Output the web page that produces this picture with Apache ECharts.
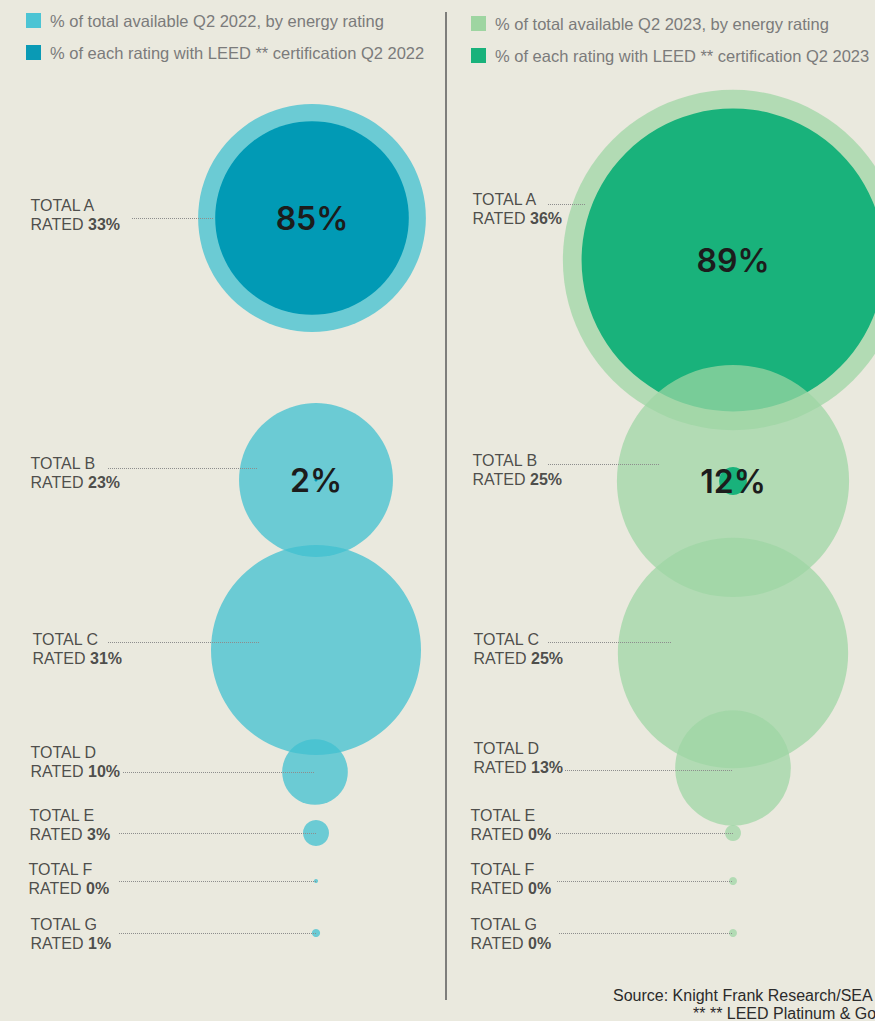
<!DOCTYPE html>
<html><head><meta charset="utf-8">
<script src="https://cdn.jsdelivr.net/npm/echarts@6/dist/echarts.min.js"></script>
<style>html,body{margin:0;padding:0;background:#eae9de;}#c{width:875px;height:1021px;}</style>
</head><body><div id="c"></div>
<script>
// ---------------- DATA ----------------
const ratings = ['A', 'B', 'C', 'D', 'E', 'F', 'G'];
// printed "% of total available" by energy rating
const share2022 = [33, 23, 31, 10, 3, 0, 1];
const share2023 = [36, 25, 25, 13, 0, 0, 0];
// % of each rating with LEED certification (only A and B shown)
const leed2022 = [85, 2, null, null, null, null, null];
const leed2023 = [89, 12, null, null, null, null, null];
// bubble sizes (in % units, unrounded estimates)
const bubble2022 = [33.3, 22.5, 30.7, 9.6, 3.8, 0.6, 1.2];
const bubble2023 = [36.2, 24.7, 24.5, 12.3, 1.7, 0.85, 0.85];
const legend2022 = ['% of total available Q2 2022, by energy rating', '% of each rating with LEED ** certification Q2 2022'];
const legend2023 = ['% of total available Q2 2023, by energy rating', '% of each rating with LEED ** certification Q2 2023'];
const sourceLines = ['Source: Knight Frank Research/SEA', '** ** LEED Platinum & Gold'];

// ---------------- LAYOUT ----------------
const FONT = '"Liberation Sans", Arial, sans-serif';
const PANELS = [
  {
    share: share2022, leed: leed2022, bubble: bubble2022, names: legend2022,
    light: '#40c0d0', lightAlpha: 0.75, dark: '#019ab5',
    legendLight: '#4cc4d4', legendDark: '#0a9ab5', legendLeft: 21, legendTop: 7,
    k: 3.42,
    cx: [312, 316, 316, 315, 316, 316, 316],
    cy: [218, 480, 650, 772, 833, 881, 933],
    labelX: [30, 30, 32, 30, 29, 28, 30],
    labelY: [214.5, 472.5, 648.5, 761.5, 824.5, 878.5, 933.5],
    lineX0: [132, 108, 108, 123, 119, 119, 119],
    lineX1: [213, 257, 260, 315, 316, 316, 316],
    lineY: [218, 468, 642, 772, 833, 881, 933]
  },
  {
    share: share2023, leed: leed2023, bubble: bubble2023, names: legend2023,
    light: '#9cd5a3', lightAlpha: 0.72, dark: '#19b27b',
    legendLight: '#9ed5a1', legendDark: '#19b27b', legendLeft: 466, legendTop: 10,
    k: 4.7,
    cx: [733, 733, 733, 733, 733, 733, 733],
    cy: [260, 481, 653, 768, 833, 881, 933],
    labelX: [472, 472, 473, 473, 470, 470, 470],
    labelY: [208.5, 469.5, 648.5, 757.5, 824.5, 878.5, 933.5],
    lineX0: [548, 548, 548, 565, 556, 557, 559],
    lineX1: [585, 660, 672, 733, 733, 733, 733],
    lineY: [204, 464, 642, 770, 833, 881, 933]
  }
];

// ---------------- BUILD ----------------
const series = [];
const legends = [];
let z = 2;
PANELS.forEach(function (p) {
  const k = p.k;
  function lightItem(i) { return { value: [p.cx[i], p.cy[i], p.bubble[i]] }; }
  function darkItem(i) { return { value: [p.cx[i], p.cy[i], p.bubble[i] * p.leed[i] / 100, p.leed[i]] }; }
  const lightSeries = function (idx) {
    return {
      type: 'scatter', name: p.names[0], z: z++, silent: true,
      symbol: 'circle',
      symbolSize: function (v) { return 2 * k * v[2]; },
      itemStyle: { color: p.light, opacity: p.lightAlpha },
      data: idx.map(lightItem)
    };
  };
  const darkSeries = function (idx) {
    return {
      type: 'scatter', name: p.names[1], z: z++, silent: true,
      symbol: 'circle',
      symbolSize: function (v) { return 2 * k * v[2]; },
      itemStyle: { color: p.dark, opacity: 1 },
      label: {
        show: true, position: 'inside',
        formatter: function (d) { return d.value[3] + '%'; },
        fontFamily: 'Inter, sans-serif', fontWeight: 600, fontSize: 32, color: '#1c1c1c'
      },
      data: idx.map(darkItem)
    };
  };
  const rest = [];
  const restLeed = [];
  for (let i = 1; i < ratings.length; i++) {
    rest.push(i);
    if (p.leed[i] != null) restLeed.push(i);
  }
  series.push(lightSeries([0]));
  series.push(darkSeries([0]));
  series.push(lightSeries(rest));
  series.push(darkSeries(restLeed));

  // leader lines
  series.push({
    type: 'lines', coordinateSystem: 'cartesian2d', silent: true, z: 50,
    lineStyle: { color: '#8d8d8d', width: 1, type: [1, 1], opacity: 1 },
    data: ratings.map(function (r, i) {
      return { coords: [[p.lineX0[i], p.lineY[i]], [p.lineX1[i], p.lineY[i]]] };
    })
  });
  // row labels
  series.push({
    type: 'scatter', silent: true, z: 60, symbolSize: 1,
    itemStyle: { color: 'rgba(0,0,0,0)' },
    label: {
      show: true, position: 'right', distance: 0, align: 'left', verticalAlign: 'middle',
      formatter: function (d) {
        return '{n|TOTAL ' + ratings[d.dataIndex] + '}\n{n|RATED }{b|' + p.share[d.dataIndex] + '%}';
      },
      rich: {
        n: { fontFamily: FONT, fontSize: 16, lineHeight: 19, color: '#242424' },
        b: { fontFamily: FONT, fontSize: 16, lineHeight: 19, color: '#242424', fontWeight: 'bold' }
      }
    },
    data: ratings.map(function (r, i) { return [p.labelX[i], p.labelY[i]]; })
  });

  legends.push({
    left: p.legendLeft, top: p.legendTop, orient: 'vertical', icon: 'rect',
    itemWidth: 15, itemHeight: 15, itemGap: 15, selectedMode: false,
    textStyle: { fontFamily: FONT, fontSize: 16.5, color: '#7b7b7b', padding: [0, 0, 0, 4] },
    data: [
      { name: p.names[0], itemStyle: { color: p.legendLight, opacity: 1 } },
      { name: p.names[1], itemStyle: { color: p.legendDark, opacity: 1 } }
    ]
  });
});

const chart = echarts.init(document.getElementById('c'), null, { renderer: 'svg' });
chart.setOption({
  backgroundColor: '#eae9de',
  animation: false,
  grid: { left: 0, right: 0, top: 0, bottom: 0 },
  xAxis: { type: 'value', min: 0, max: 875, show: false },
  yAxis: { type: 'value', min: 0, max: 1021, inverse: true, show: false },
  legend: legends,
  series: series,
  graphic: [
    { type: 'line', shape: { x1: 446, y1: 12, x2: 446, y2: 1000 }, style: { stroke: '#5a5a5a', lineWidth: 1.5 }, silent: true },
    { type: 'text', x: 613, y: 995, style: { text: sourceLines[0], fontFamily: FONT, fontSize: 16, fill: '#2b2b2b', textVerticalAlign: 'middle' }, silent: true },
    { type: 'text', x: 693, y: 1013, style: { text: sourceLines[1], fontFamily: FONT, fontSize: 16, fill: '#2b2b2b', textVerticalAlign: 'middle' }, silent: true }
  ]
});
</script>
</body></html>
